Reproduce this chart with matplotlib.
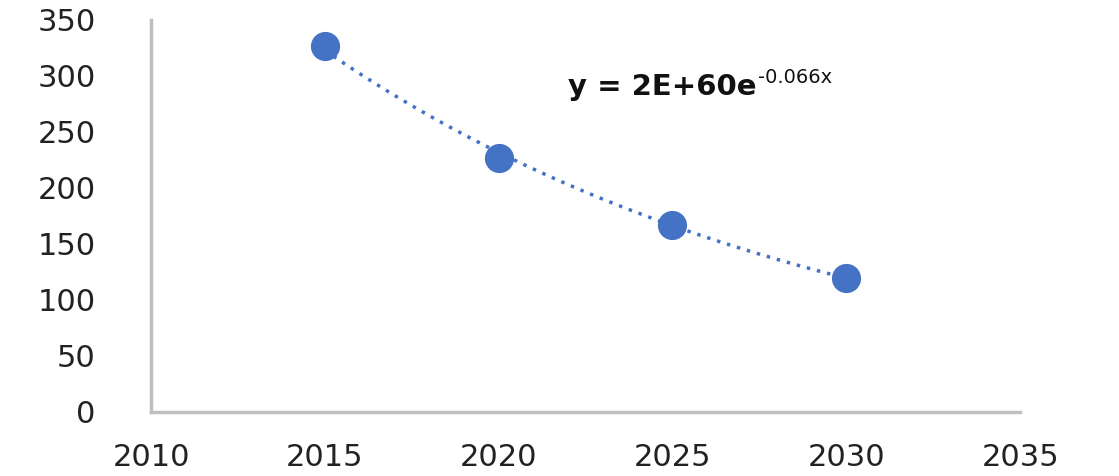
import numpy as np
import matplotlib.pyplot as plt

years = [2015, 2020, 2025, 2030]
values = [327, 227, 167, 120]
x_ticks = [2010, 2015, 2020, 2025, 2030, 2035]
y_ticks = [0, 50, 100, 150, 200, 250, 300, 350]
eq_base = "y = 2E+60e"
eq_power = "-0.066x"

blue = "#4472C4"

fig = plt.figure(figsize=(11.19, 4.76), dpi=100)
ax = fig.add_axes([0.135, 0.1345, 0.7766, 0.8235])

# exponential trendline fitted to the points
b, ln_a = np.polyfit(years, np.log(values), 1)
xs = np.linspace(years[0], years[-1], 100)
ax.plot(xs, np.exp(ln_a) * np.exp(b * xs), color=blue, lw=2.5, ls=(0, (1, 2)), zorder=2)
ax.plot(years, values, "o", color=blue, ms=20, zorder=3)

ax.set_xlim(2010, 2035)
ax.set_ylim(0, 350)
ax.set_xticks(x_ticks)
ax.set_yticks(y_ticks)
ax.tick_params(length=0, labelsize=22, colors="#222222")
ax.tick_params(axis="x", pad=22)
ax.tick_params(axis="y", pad=40)

for s in ["top", "right"]:
    ax.spines[s].set_visible(False)
for s in ["left", "bottom"]:
    ax.spines[s].set_color("#BFBFBF")
    ax.spines[s].set_linewidth(2.5)

t = ax.text(2022.0, 283, eq_base, fontsize=21, fontweight="bold", color="#111111",
            va="baseline")
ax.annotate(eq_power, xy=(1, 0.5), xycoords=t, xytext=(1, 0), textcoords="offset points",
            fontsize=14, color="#111111", ha="left", va="bottom")

fig.savefig("out.png", dpi=100)
